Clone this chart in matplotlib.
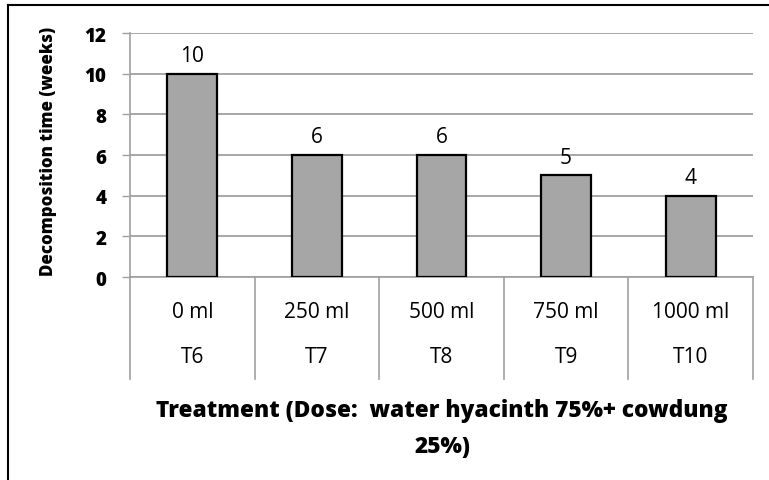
import numpy as np
import matplotlib.pyplot as plt
import matplotlib.transforms as transforms

# datos del grafico
doses = ["0 ml", "250 ml", "500 ml", "750 ml", "1000 ml"]
treatments = ["T6", "T7", "T8", "T9", "T10"]
weeks = [10, 6, 6, 5, 4]
yticks = [0, 2, 4, 6, 8, 10, 12]

plt.rcParams['font.family'] = ['Open Sans', 'DejaVu Sans']

fig = plt.figure(figsize=(7.69, 4.81), dpi=100)
ax = fig.add_axes([130/769, 1 - 278/481, (753-130)/769, (278-34)/481])

x = np.arange(len(weeks))
ax.bar(x, weeks, width=0.4, color="#a6a6a6", edgecolor="black", linewidth=1.6, zorder=3)

# etiquetas de datos
for xi, v in zip(x, weeks):
	ax.text(xi, v + 0.89, str(v), ha="center", va="center", fontsize=15)

ax.set_xlim(-0.5, len(weeks) - 0.5)
ax.set_ylim(0, 12)
ax.set_yticks(yticks)
ax.set_yticklabels([str(t) for t in yticks], fontsize=13.5, fontweight=800)
ax.yaxis.grid(True, color="#a0a0a0", linewidth=1.3, zorder=0)
ax.tick_params(axis="y", length=6, width=1, color="#a0a0a0", pad=11)
ax.set_xticks([])

for s in ["top", "right"]:
	ax.spines[s].set_visible(False)
for s in ["left", "bottom"]:
	ax.spines[s].set_color("#a0a0a0")
	ax.spines[s].set_linewidth(1.2)

fig.text(49/769, 1 - 151/481, "Decomposition time (weeks)", rotation=90,
	ha="center", va="center", fontsize=12.2, fontweight=800)

# eje de categorias en dos niveles
trans = transforms.blended_transform_factory(ax.transData, ax.transAxes)
for b in np.arange(len(weeks) + 1) - 0.5:
	ax.plot([b, b], [0, -0.418], transform=trans, color="#a0a0a0", linewidth=1.2, clip_on=False)
for xi, d, t in zip(x, doses, treatments):
	ax.text(xi, -0.14, d, transform=trans, ha="center", va="center", fontsize=15)
	ax.text(xi, -0.325, t, transform=trans, ha="center", va="center", fontsize=15)

fig.text(442/769, 1 - 429/481, "Treatment (Dose:  water hyacinth 75%+ cowdung\n25%)",
	ha="center", va="center", fontsize=16.3, fontweight=800, linespacing=1.65)

# borde de la figura (solo izquierda y arriba)
fig.add_artist(plt.Line2D([8/769, 8/769], [0, 1 - 6/481], color="black", linewidth=1.5))
fig.add_artist(plt.Line2D([8/769, 1], [1 - 6/481, 1 - 6/481], color="black", linewidth=1.5))

fig.savefig("out.png", dpi=100)
